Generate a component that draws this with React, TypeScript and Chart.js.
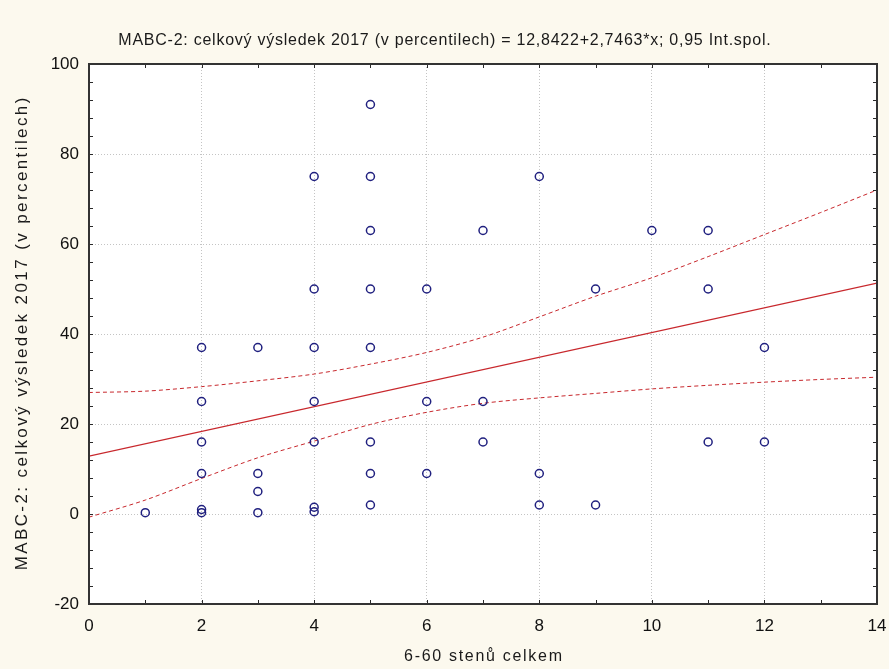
import React, { useEffect, useRef } from "react";
import { Chart, registerables } from "chart.js";

Chart.register(...registerables);

// Scatter data: 6-60 stenů celkem (x) vs MABC-2 percentile (y)
const pointX = [1, 2, 2, 2, 2, 2, 2, 3, 3, 3, 3, 4, 4, 4, 4, 4, 4, 4, 5, 5, 5, 5, 5, 5, 5, 5, 6, 6, 6, 7, 7, 7, 8, 8, 8, 9, 9, 10, 11, 11, 11, 12, 12];
const pointY = [0.3, 37, 25, 16, 9, 1, 0.3, 37, 9, 5, 0.3, 75, 50, 37, 25, 16, 1.5, 0.5, 91, 75, 63, 50, 37, 16, 9, 2, 50, 25, 9, 63, 25, 16, 75, 9, 2, 50, 2, 63, 63, 50, 16, 37, 16];

// Regression line end points (12,8422 + 2,7463*x)
const lineX = [0, 14];
const lineY = [12.84, 51.29];

// 0,95 confidence band
const bandX = [0, 1, 2, 3, 4, 5, 6, 7, 8, 9, 10, 11, 12, 13, 14];
const upperBand = [27.0, 27.3, 28.3, 29.6, 31.1, 33.3, 35.9, 39.3, 43.8, 48.4, 52.5, 57.2, 62.1, 67.0, 72.0];
const lowerBand = [-0.7, 3.1, 7.9, 12.5, 16.2, 19.9, 22.6, 24.6, 25.8, 26.8, 27.8, 28.6, 29.3, 29.9, 30.4];

const xTickStep = 2;
const yTickStep = 20;

const TITLE = "MABC-2: celkový výsledek 2017 (v percentilech) = 12,8422+2,7463*x; 0,95 Int.spol.";
const X_TITLE = "6-60 stenů celkem";
const Y_TITLE = "MABC-2: celkový výsledek 2017 (v percentilech)";

const FONT = "'Liberation Sans', Arial, sans-serif";
const BG = "rgb(252,249,238)";
const RED = "#c8282d";
const NAVY = "#20207f";

function drawSpaced(ctx: any, text: string, x: number, y: number, spacing: number) {
  ctx.letterSpacing = spacing + "px";
  const w = ctx.measureText(text).width - spacing;
  ctx.textAlign = "left";
  ctx.fillText(text, x - w / 2, y);
}

const framePlugin = {
  id: "frame",
  beforeDraw(chart: any) {
    const { ctx, chartArea: a } = chart;
    ctx.save();
    ctx.fillStyle = BG;
    ctx.fillRect(0, 0, chart.width, chart.height);
    ctx.fillStyle = "#ffffff";
    ctx.fillRect(a.left, a.top, a.right - a.left, a.bottom - a.top);
    ctx.restore();
  },
  afterDraw(chart: any) {
    const { ctx, chartArea: a, scales } = chart;
    const xs = scales.x;
    const ys = scales.y;
    ctx.save();
    ctx.strokeStyle = "#2a2a2a";
    ctx.lineWidth = 1;
    const len = 4;
    ctx.beginPath();
    for (let v = xs.min; v <= xs.max; v += 1) {
      const px = Math.round(xs.getPixelForValue(v)) + 0.5;
      ctx.moveTo(px, a.top);
      ctx.lineTo(px, a.top + len);
      ctx.moveTo(px, a.bottom);
      ctx.lineTo(px, a.bottom - len);
    }
    for (let v = ys.min; v <= ys.max; v += 4) {
      const py = Math.round(ys.getPixelForValue(v)) + 0.5;
      ctx.moveTo(a.left, py);
      ctx.lineTo(a.left + len, py);
      ctx.moveTo(a.right, py);
      ctx.lineTo(a.right - len, py);
    }
    ctx.stroke();
    ctx.lineWidth = 2;
    ctx.strokeStyle = "#333333";
    ctx.strokeRect(a.left, a.top, a.right - a.left, a.bottom - a.top);

    // titles
    ctx.fillStyle = "#1a1a1a";
    ctx.textBaseline = "middle";
    ctx.font = "16px " + FONT;
    drawSpaced(ctx, TITLE, chart.width / 2, 41, 0.75);
    drawSpaced(ctx, X_TITLE, (a.left + a.right) / 2, 657, 1.7);
    ctx.save();
    ctx.font = "17px " + FONT;
    ctx.translate(22, (a.top + a.bottom) / 2);
    ctx.rotate(-Math.PI / 2);
    drawSpaced(ctx, Y_TITLE, 0, 0, 2.4);
    ctx.restore();
    ctx.restore();
  },
};

export default function App() {
  const ref = useRef<HTMLCanvasElement | null>(null);

  useEffect(() => {
    if (!ref.current) return;
    const scatter = pointX.map((x, i) => ({ x, y: pointY[i] }));
    const reg = lineX.map((x, i) => ({ x, y: lineY[i] }));
    const up = bandX.map((x, i) => ({ x, y: upperBand[i] }));
    const lo = bandX.map((x, i) => ({ x, y: lowerBand[i] }));

    const chart = new Chart(ref.current, {
      type: "scatter",
      data: {
        datasets: [
          {
            label: "data",
            data: scatter,
            pointStyle: "circle",
            pointRadius: 4,
            pointBorderWidth: 1.5,
            borderColor: NAVY,
            pointBorderColor: NAVY,
            backgroundColor: "rgba(0,0,0,0)",
            pointBackgroundColor: "rgba(0,0,0,0)",
            showLine: false,
            order: 0,
          },
          {
            label: "reg",
            data: reg,
            showLine: true,
            borderColor: RED,
            borderWidth: 1.2,
            pointRadius: 0,
            order: 1,
          },
          {
            label: "upper",
            data: up,
            showLine: true,
            borderColor: RED,
            borderWidth: 1,
            borderDash: [4, 3],
            pointRadius: 0,
            tension: 0.3,
            order: 2,
          },
          {
            label: "lower",
            data: lo,
            showLine: true,
            borderColor: RED,
            borderWidth: 1,
            borderDash: [4, 3],
            pointRadius: 0,
            tension: 0.3,
            order: 3,
          },
        ],
      },
      options: {
        animation: false,
        responsive: false,
        maintainAspectRatio: false,
        layout: { padding: { left: 0, right: 12, top: 64, bottom: 0 } },
        plugins: {
          legend: { display: false },
          tooltip: { enabled: false },
          title: { display: false },
        },
        scales: {
          x: {
            type: "linear",
            min: 0,
            max: 14,
            afterFit: (s: any) => {
              s.height = 65;
              s.paddingLeft = 0;
              s.paddingRight = 0;
            },
            ticks: {
              stepSize: xTickStep,
              color: "#111",
              font: { family: FONT, size: 17 },
              padding: 12,
              maxRotation: 0,
            },
            grid: { color: "#c4c4c4", drawTicks: false, lineWidth: 1 },
            border: { display: false, dash: [1, 2] },
            title: { display: false },
          },
          y: {
            type: "linear",
            min: -20,
            max: 100,
            afterFit: (s: any) => {
              s.width = 89;
              s.paddingTop = 0;
              s.paddingBottom = 0;
            },
            ticks: {
              stepSize: yTickStep,
              color: "#111",
              font: { family: FONT, size: 17 },
              padding: 10,
            },
            grid: { color: "#c4c4c4", drawTicks: false, lineWidth: 1 },
            border: { display: false, dash: [1, 2] },
            title: { display: false },
          },
        },
      },
      plugins: [framePlugin],
    });
    return () => chart.destroy();
  }, []);

  return (
    <div style={{ position: "fixed", left: 0, top: 0, width: 889, height: 669, background: BG }}>
      <canvas ref={ref} width={889} height={669} style={{ display: "block", width: 889, height: 669 }} />
    </div>
  );
}
